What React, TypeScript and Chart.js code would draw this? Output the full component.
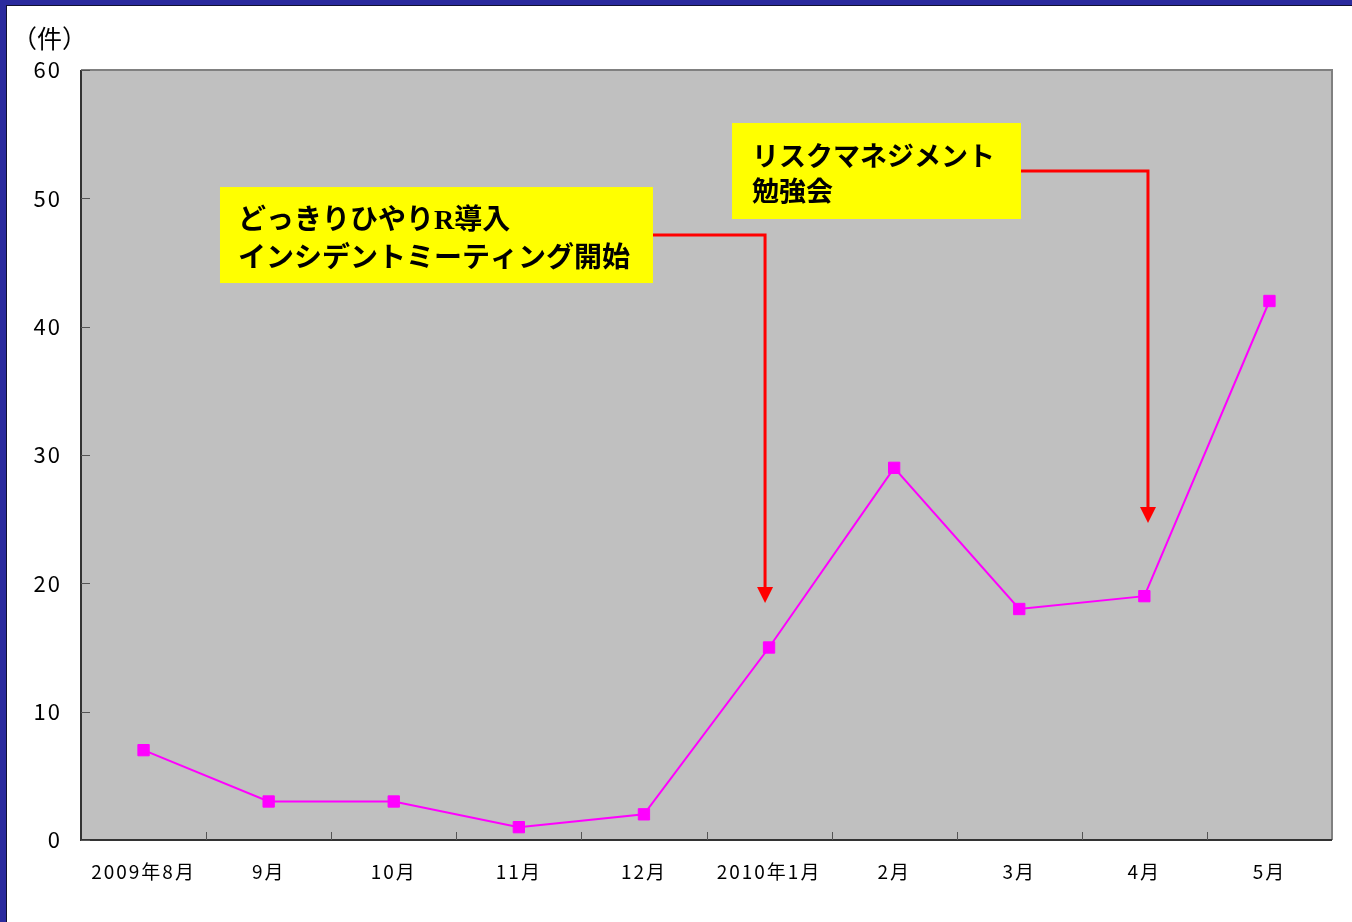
import React, { useEffect, useRef } from "react";
import { Chart, registerables } from "chart.js";

Chart.register(...registerables);

const categories = ["2009年8月", "9月", "10月", "11月", "12月", "2010年1月", "2月", "3月", "4月", "5月"];
const counts = [7, 3, 3, 1, 2, 15, 29, 18, 19, 42];
const yMin = 0;
const yMax = 60;
const yStep = 10;
const unitLabel = "（件）";
const note1Lines = ["どっきりひやりR導入", "インシデントミーティング開始"];
const note2Lines = ["リスクマネジメント", "勉強会"];

// annotation anchors in data space (category index, value)
const notes = [
  { lines: note1Lines, x0: 0.611, x1: 4.072, yTop: 50.88, yBot: 43.4, padL: 18, lineY: [35, 73], font: 28, lineY_: 47.14, arrowX: 4.968, tipY: 18.47 },
  { lines: note2Lines, x0: 4.704, x1: 7.014, yTop: 55.87, yBot: 48.39, padL: 20, lineY: [36, 71], font: 27, lineY_: 52.13, arrowX: 8.029, tipY: 24.7 },
];

const FONT = '"Noto Sans CJK JP", "Noto Sans", sans-serif';
const NOTE_FONT = '"Liberation Serif", "Noto Sans CJK JP", sans-serif';

const decor = {
  id: "decor",
  beforeDraw(chart: any) {
    const { ctx, width, height } = chart;
    ctx.save();
    ctx.fillStyle = "#ffffff";
    ctx.fillRect(0, 0, width, height);
    ctx.fillStyle = "#2a2a9e";
    ctx.fillRect(0, 0, width, 6);
    ctx.fillRect(0, 0, 6, height);
    ctx.fillStyle = "#101030";
    ctx.fillRect(6, 5, width - 6, 1);
    ctx.fillRect(6, 5, 1, height - 5);
    ctx.fillStyle = "#000";
    ctx.font = `25px ${FONT}`;
    ctx.textAlign = "left";
    ctx.textBaseline = "middle";
    ctx.fillText(unitLabel, 12, 38);
    ctx.restore();
    (ctx as any).letterSpacing = "2px";
  },
  beforeDatasetsDraw(chart: any) {
    const { ctx, chartArea: a, scales } = chart;
    const x = scales.x;
    const y = scales.y;
    ctx.save();
    ctx.fillStyle = "#c0c0c0";
    ctx.fillRect(a.left, a.top, a.right - a.left, a.bottom - a.top);
    ctx.strokeStyle = "#808080";
    ctx.lineWidth = 2;
    ctx.beginPath();
    ctx.moveTo(a.left, a.top);
    ctx.lineTo(a.right, a.top);
    ctx.lineTo(a.right, a.bottom);
    ctx.stroke();
    ctx.strokeStyle = "#333";
    ctx.lineWidth = 2;
    ctx.beginPath();
    ctx.moveTo(a.left, a.top);
    ctx.lineTo(a.left, a.bottom);
    ctx.lineTo(a.right, a.bottom);
    ctx.stroke();
    ctx.strokeStyle = "#555";
    ctx.lineWidth = 1;
    ctx.beginPath();
    for (let v = yMin; v <= yMax; v += yStep) {
      const py = Math.round(y.getPixelForValue(v)) + 0.5;
      ctx.moveTo(a.left, py);
      ctx.lineTo(a.left + 9, py);
    }
    for (let i = 0; i < categories.length - 1; i++) {
      const px = Math.round(x.getPixelForValue(i + 0.5)) + 0.5;
      ctx.moveTo(px, a.bottom);
      ctx.lineTo(px, a.bottom - 8);
    }
    ctx.stroke();
    ctx.restore();
  },
  afterDatasetsDraw(chart: any) {
    const { ctx, scales } = chart;
    const x = scales.x;
    const y = scales.y;
    ctx.save();
    (ctx as any).letterSpacing = "0px";
    for (const n of notes) {
      const l = x.getPixelForValue(n.x0);
      const r = x.getPixelForValue(n.x1);
      const t = y.getPixelForValue(n.yTop);
      const b = y.getPixelForValue(n.yBot);
      const ly = y.getPixelForValue(n.lineY_);
      const ax = x.getPixelForValue(n.arrowX);
      const tip = y.getPixelForValue(n.tipY);
      ctx.strokeStyle = "#ff0000";
      ctx.lineWidth = 3;
      ctx.lineJoin = "miter";
      ctx.beginPath();
      ctx.moveTo(r, ly);
      ctx.lineTo(ax, ly);
      ctx.lineTo(ax, tip - 14);
      ctx.stroke();
      ctx.fillStyle = "#ff0000";
      ctx.beginPath();
      ctx.moveTo(ax - 8, tip - 16);
      ctx.lineTo(ax + 8, tip - 16);
      ctx.lineTo(ax, tip);
      ctx.closePath();
      ctx.fill();
      ctx.fillStyle = "#ffff00";
      ctx.fillRect(l, t, r - l, b - t);
      ctx.fillStyle = "#000";
      ctx.font = `bold ${n.font}px ${NOTE_FONT}`;
      ctx.textAlign = "left";
      ctx.textBaseline = "middle";
      n.lines.forEach((s, i) => ctx.fillText(s, l + n.padL, t + n.lineY[i]));
    }
    ctx.restore();
  },
};

export default function App() {
  const ref = useRef<HTMLCanvasElement | null>(null);
  useEffect(() => {
    document.body.style.margin = "0";
    const chart = new Chart(ref.current as HTMLCanvasElement, {
      type: "line",
      data: {
        labels: categories,
        datasets: [
          {
            data: counts,
            borderColor: "#ff00ff",
            backgroundColor: "#ff00ff",
            borderWidth: 2,
            pointStyle: "rect",
            pointRadius: 8,
            pointBorderWidth: 1,
            pointBorderColor: "#ff00ff",
            pointBackgroundColor: "#ff00ff",
            tension: 0,
          },
        ],
      },
      options: {
        responsive: false,
        animation: false,
        events: [],
        layout: { padding: { left: 0, top: 70, right: 20, bottom: 0 } },
        plugins: { legend: { display: false }, tooltip: { enabled: false }, title: { display: false } },
        scales: {
          x: {
            type: "category",
            offset: true,
            grid: { display: false, drawTicks: false },
            border: { display: false },
            ticks: { color: "#000", font: { family: FONT, size: 19 }, padding: 20, maxRotation: 0, autoSkip: false },
            afterFit: (s: any) => {
              s.height = 82;
            },
          },
          y: {
            min: yMin,
            max: yMax,
            grid: { display: false, drawTicks: false },
            border: { display: false },
            ticks: { stepSize: yStep, color: "#000", font: { family: FONT, size: 22 }, padding: 19 },
            afterFit: (s: any) => {
              s.width = 81;
            },
          },
        },
      },
      plugins: [decor],
    });
    return () => chart.destroy();
  }, []);
  return (
    <div style={{ position: "fixed", left: 0, top: 0, width: 1352, height: 922 }}>
      <canvas ref={ref} width={1352} height={922} style={{ display: "block", width: 1352, height: 922 }} />
    </div>
  );
}
